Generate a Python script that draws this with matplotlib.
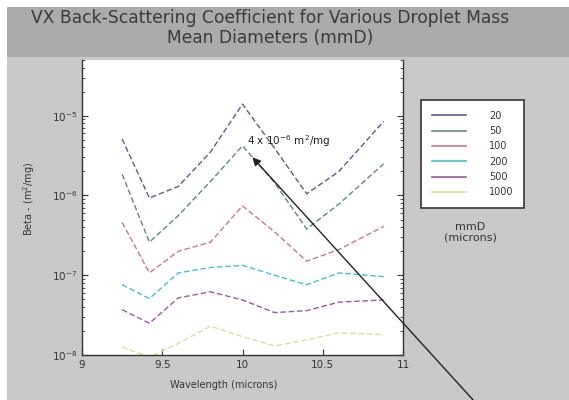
import numpy as np
import matplotlib
matplotlib.use("Agg")
import matplotlib.pyplot as plt
from matplotlib.patches import Rectangle
from matplotlib.ticker import LogLocator, NullFormatter

# wavelength (microns)
wavelength = [9.25, 9.42, 9.6, 9.8, 10.0, 10.2, 10.4, 10.6, 10.88]

# back-scattering coefficient per mmD (m^2/mg)
beta_20 = [5.1e-6, 9.3e-7, 1.3e-6, 3.5e-6, 1.4e-5, 3.9e-6, 1.05e-6, 2.0e-6, 8.5e-6]
beta_50 = [1.85e-6, 2.6e-7, 5.6e-7, 1.5e-6, 4.2e-6, 1.45e-6, 3.8e-7, 7.8e-7, 2.5e-6]
beta_100 = [4.6e-7, 1.07e-7, 2.0e-7, 2.6e-7, 7.4e-7, 3.5e-7, 1.5e-7, 2.1e-7, 4.1e-7]
beta_200 = [7.6e-8, 5.1e-8, 1.07e-7, 1.25e-7, 1.33e-7, 1.0e-7, 7.6e-8, 1.07e-7, 9.6e-8]
beta_500 = [3.7e-8, 2.5e-8, 5.2e-8, 6.2e-8, 4.9e-8, 3.4e-8, 3.6e-8, 4.6e-8, 4.9e-8]
beta_1000 = [1.26e-8, 9.4e-9, 1.4e-8, 2.3e-8, 1.7e-8, 1.3e-8, 1.55e-8, 1.9e-8, 1.8e-8]

labels = ['20', '50', '100', '200', '500', '1000']
colores = ['#5a5a8c', '#5e8c6e', '#c87888', '#40c4c4', '#9a5a9a', '#dcdc98']
series = [beta_20, beta_50, beta_100, beta_200, beta_500, beta_1000]

fig = plt.figure(figsize=(5.69, 4.0), dpi=100)
fig.patch.set_facecolor('white')

# gray panel + darker title band
fig.patches.append(Rectangle((7/569, 0), 1, 343/400, transform=fig.transFigure,
                             facecolor='#c9c9c9', edgecolor='none', zorder=-2))
fig.patches.append(Rectangle((7/569, 343/400), 1, 50/400, transform=fig.transFigure,
                             facecolor='#ababab', edgecolor='none', zorder=-1))

fig.text(0.475, 0.955, 'VX Back-Scattering Coefficient for Various Droplet Mass',
         ha='center', va='center', fontsize=12.3, color='#3a3a3a')
fig.text(0.475, 0.905, 'Mean Diameters (mmD)',
         ha='center', va='center', fontsize=12.3, color='#3a3a3a')

ax = fig.add_axes([82/569, 45/400, 321/569, 295/400])
for s, lab, c in zip(series, labels, colores):
    ax.plot(wavelength, s, '--', color=c, lw=1.0, dashes=(4, 2), label=lab)

ax.set_yscale('log')
ax.set_xlim(9, 11)
ax.set_ylim(1e-8, 5e-5)
ax.set_xticks([9, 9.5, 10, 10.5, 11])
ax.set_xticklabels(['9', '9.5', '10', '10.5', '11'])
ax.yaxis.set_major_locator(LogLocator(base=10, numticks=10))
ax.yaxis.set_minor_locator(LogLocator(base=10, subs=np.arange(2, 10), numticks=20))
ax.yaxis.set_minor_formatter(NullFormatter())
ax.tick_params(which='both', direction='in', top=False, right=True, labelsize=7.5, colors='#333333')
ax.tick_params(which='major', length=4)
ax.tick_params(which='minor', length=2)
for sp in ax.spines.values():
    sp.set_color('#333333')
    sp.set_linewidth(1.0)
ax.spines['top'].set_visible(False)

ax.set_xlabel('Wavelength (microns)', fontsize=7, color='#333333', labelpad=3)
ax.xaxis.set_label_coords(0.44, -0.085)
ax.set_ylabel('Beta - (m$^2$/mg)', fontsize=7, color='#333333', labelpad=8)
ax.yaxis.set_label_coords(-0.14, 0.53)

ax.text(10.03, 4.8e-6, '4 x 10$^{-6}$ m$^2$/mg', fontsize=7.5, color='#222222', va='center')
ax.annotate('', xy=(10.05, 3.2e-6), xycoords='data',
            xytext=(484/569, -0.03), textcoords='figure fraction',
            arrowprops=dict(arrowstyle='-|>', color='#222222', lw=1.0, mutation_scale=12),
            annotation_clip=False)

leg = fig.legend(handles=[plt.Line2D([], [], color=c, lw=1.2) for c in colores],
                 labels=labels, loc='upper left', bbox_to_anchor=(421/569, 1 - 100/400),
                 fontsize=7, frameon=True, fancybox=False, edgecolor='#333333',
                 framealpha=1, handlelength=3.5, handletextpad=2.4, labelspacing=0.55,
                 borderpad=1.1, borderaxespad=0)
leg.get_frame().set_linewidth(1.2)
leg.get_frame().set_facecolor('white')
for t in leg.get_texts():
    t.set_color('#333333')

fig.text(470/569, 1 - 232/400, 'mmD\n(microns)', ha='center', va='center',
         fontsize=8, color='#333333', linespacing=1.1)

fig.savefig('out.png', dpi=100)
